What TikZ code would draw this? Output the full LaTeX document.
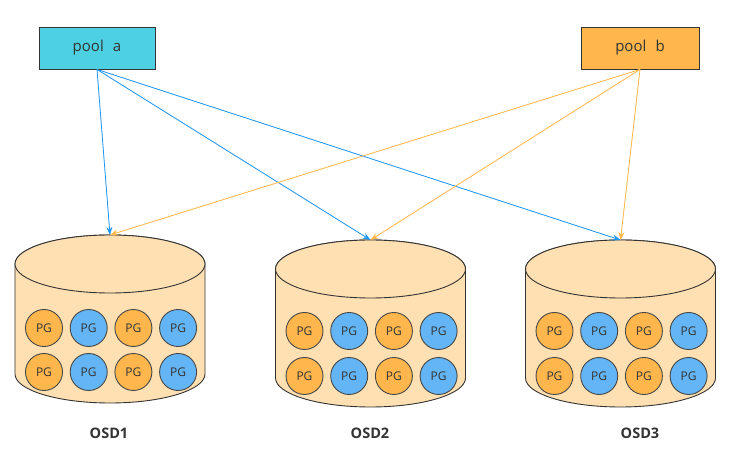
\documentclass[tikz,border=0pt]{standalone}
\usepackage{fontspec}
\setmainfont{Open Sans}
\usetikzlibrary{arrows.meta, positioning}
\definecolor{ccyan}{HTML}{4DD0E1}
\definecolor{corange}{HTML}{FFB74D}
\definecolor{cblue}{HTML}{64B5F6}
\definecolor{cline}{HTML}{2196F3}
\definecolor{cdisk}{HTML}{FFE0B2}
\definecolor{cdark}{HTML}{333333}
\tikzset{
  every picture/.style={x=1pt, y=1pt, line width=0.9pt},
  pool/.style={draw=cdark, fill=#1, minimum width=116pt, minimum height=42pt, font=\fontsize{15}{17}\selectfont, text=cdark},
  pg/.style={circle, draw=cdark!90, fill=#1, minimum size=37pt, inner sep=0pt, font=\fontsize{12}{14}\selectfont, text=cdark},
  link/.style={-{Stealth[length=8pt, width=6pt]}, draw=#1, fill=#1, line width=0.8pt},
  disk/.style={draw=cdark, fill=cdisk, line width=0.9pt},
  osdname/.style={font=\bfseries\fontsize{14.5}{16}\selectfont, text=cdark},
}

\begin{document}
\begin{tikzpicture}
  \useasboundingbox (0,0) rectangle (732,458);

  \node[pool=ccyan] (pa) at (97,410) {pool\hspace{0.35em} a};
  \node[pool=corange, minimum width=118pt] (pb) at (640,410) {pool\hspace{0.35em} b};

  % disks with their placement groups
  \foreach \n/\cx/\yt/\yb/\rowa/\rowb/\lx in {1/110/223/55/130/86/109, 2/370.5/218/51/127/82/370, 3/620.5/218/51/127/82/640} {
    \draw[disk] (\cx-95,\yt-29) -- (\cx-95,\yb+29)
      arc[start angle=180, end angle=360, x radius=95pt, y radius=29pt]
      -- (\cx+95,\yt-29)
      arc[start angle=0, end angle=180, x radius=95pt, y radius=29pt] -- cycle;
    \draw[disk] (\cx,\yt-29) ellipse[x radius=95pt, y radius=29pt];
    \coordinate (osd\n) at (\cx,\yt);
    \foreach \c/\col in {0/corange, 1/cblue, 2/corange, 3/cblue} {
      \node[pg=\col] (pg\n a\c) at (\cx-66+44.7*\c,\rowa) {PG};
      \node[pg=\col] (pg\n b\c) at (\cx-66+44.7*\c,\rowb) {PG};
    }
    \node[osdname] (name\n) at (\lx,25) {OSD\n};
  }

  % pool a -> osds
  \draw[link=cline] (pa.south) -- (osd1);
  \draw[link=cline] (pa.south) -- (osd2);
  \draw[link=cline] (pa.south) -- (osd3);
  % pool b -> osds
  \draw[link=corange] (pb.south) -- (osd1);
  \draw[link=corange] (pb.south) -- (osd2);
  \draw[link=corange] (pb.south) -- (osd3);
\end{tikzpicture}
\end{document}
